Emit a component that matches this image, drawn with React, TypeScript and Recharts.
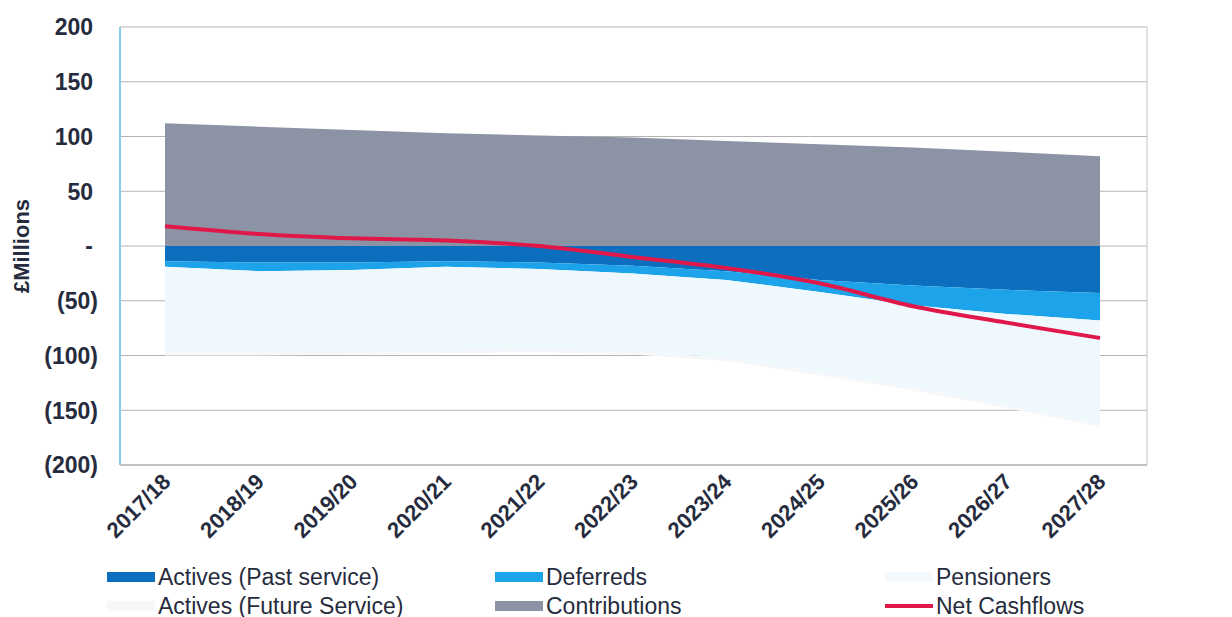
import React from "react";
import {
  ComposedChart,
  Area,
  Line,
  XAxis,
  YAxis,
  CartesianGrid,
} from "recharts";

// Financial years shown on the horizontal axis
const years = [
  "2017/18",
  "2018/19",
  "2019/20",
  "2020/21",
  "2021/22",
  "2022/23",
  "2023/24",
  "2024/25",
  "2025/26",
  "2026/27",
  "2027/28",
];

// Benefit outgoings (£m, negative = cash out)
const activesPast = [-14, -15, -15, -14, -15, -18, -23, -31, -36, -40, -43];
const deferreds = [-5, -8, -7, -5, -6, -7, -8, -11, -18, -22, -25];
const pensioners = [-78, -74, -74, -76, -73, -71, -71, -73, -75, -83, -94];
const activesFuture = [-3, -3, -3, -3, -3, -3, -3, -3, -3, -3, -3];

// Income (£m)
const contributions = [112, 109, 106, 103, 101, 99, 96, 93, 90, 86, 82];

// Net position (£m)
const netCashflows = [18, 11, 7, 5, 0, -10, -20, -34, -55, -70, -84];

const yTicks = [-200, -150, -100, -50, 0, 50, 100, 150, 200];

const COLORS = {
  past: "#0b6ebf",
  deferreds: "#1ca3ea",
  pensioners: "#eff9fd",
  future: "#f4f8fa",
  contributions: "#8b93a5",
  net: "#e0184a",
};

const TEXT = "#262c3e";
const FONT = "'Liberation Sans', Arial, sans-serif";
const W = 1232;
const H = 617;
const MARGIN = { top: 27, right: 0, bottom: 0, left: 0 };

const data = years.map((year, i) => ({
  year,
  activesPast: activesPast[i],
  deferreds: deferreds[i],
  pensioners: pensioners[i],
  activesFuture: activesFuture[i],
  contributions: contributions[i],
  net: netCashflows[i],
}));

const legendItems = [
  { name: "Actives (Past service)", color: COLORS.past, kind: "area" },
  { name: "Deferreds", color: COLORS.deferreds, kind: "area" },
  { name: "Pensioners", color: "#f3f9fc", kind: "area" },
  { name: "Actives (Future Service)", color: "#f5f7f8", kind: "area" },
  { name: "Contributions", color: COLORS.contributions, kind: "area" },
  { name: "Net Cashflows", color: COLORS.net, kind: "line" },
];

const legendCols = [107, 495, 885];
const legendRows = [577, 606];

// Accounting-style number format: negatives in brackets, zero as a dash
const formatMillions = (v: number) => {
  if (v === 0) return "-";
  if (v < 0) return `(${Math.abs(v)})`;
  return String(v);
};

const YTick = (props: any) => {
  const { x, y, payload, textAnchor } = props;
  // positives sit one bracket-width in from the right edge, as in accounting format
  const shift = textAnchor === "end" && payload.value >= 0 ? -5 : 0;
  return (
    <text
      x={x + shift}
      y={y}
      dy="0.36em"
      textAnchor={textAnchor}
      fontFamily={FONT}
      fontWeight="bold"
      fontSize={23}
      fill={TEXT}
    >
      {formatMillions(payload.value)}
    </text>
  );
};

const XTick = (props: any) => {
  const { x, y, payload } = props;
  return (
    <g transform={`translate(${x + 7},${y + 18})`}>
      <text
        transform="rotate(-45)"
        textAnchor="end"
        fontFamily={FONT}
        fontWeight="bold"
        fontSize={22}
        fill={TEXT}
      >
        {payload.value}
      </text>
    </g>
  );
};

const AxisTitle = (props: any) => {
  const vb = props.viewBox || { x: 0, y: 27, width: 120, height: 438 };
  const cx = 21;
  const cy = vb.y + vb.height / 2;
  return (
    <text
      x={cx}
      y={cy}
      transform={`rotate(-90 ${cx} ${cy})`}
      textAnchor="middle"
      dominantBaseline="central"
      fontFamily={FONT}
      fontWeight="bold"
      fontSize={22}
      fill={TEXT}
    >
      £Millions
    </text>
  );
};

// Shared axis geometry so the gridded base layer and the series layer line up
const xAxisBase = {
  dataKey: "year",
  height: 152,
  padding: { left: 45, right: 47 },
  interval: 0 as const,
  tickSize: 0,
  tickMargin: 0,
};
const leftAxisBase = {
  yAxisId: "left",
  width: 120,
  domain: [-200, 200] as [number, number],
  ticks: yTicks,
  allowDataOverflow: true,
  tickSize: 0,
  tickMargin: 22,
};
const rightAxisBase = {
  yAxisId: "right",
  orientation: "right" as const,
  width: 85,
  domain: [-200, 200] as [number, number],
  ticks: yTicks,
  tickSize: 0,
  tickMargin: 25,
};

const areaCommon = {
  yAxisId: "left",
  type: "linear" as const,
  stackId: "cash",
  stroke: "none",
  fillOpacity: 1,
  isAnimationActive: false,
};

const layerStyle: React.CSSProperties = {
  position: "absolute",
  left: 0,
  top: 0,
};

export default function App() {
  return (
    <div
      style={{
        position: "absolute",
        left: 0,
        top: 0,
        width: W,
        height: H,
        background: "#ffffff",
      }}
    >
      {/* base layer: gridlines, axes and labels */}
      <div style={layerStyle}>
        <ComposedChart width={W} height={H} data={data} margin={MARGIN}>
          <CartesianGrid
            yAxisId="left"
            vertical={false}
            stroke="#b4b4b4"
            strokeWidth={1}
          />
          <XAxis
            {...xAxisBase}
            axisLine={{ stroke: "#a8a8a8" }}
            tickLine={false}
            tick={<XTick />}
          />
          <YAxis
            {...leftAxisBase}
            axisLine={{ stroke: "#86cdea", strokeWidth: 2 }}
            tickLine={false}
            tick={<YTick />}
            label={<AxisTitle />}
          />
          <YAxis
            {...rightAxisBase}
            axisLine={{ stroke: "#c4c4c4" }}
            tickLine={false}
            tick={<YTick />}
          />
        </ComposedChart>
      </div>

      {/* series layer: stacked cashflow areas and the net line */}
      <div style={layerStyle}>
        <ComposedChart
          width={W}
          height={H}
          data={data}
          stackOffset="sign"
          margin={MARGIN}
        >
          <XAxis {...xAxisBase} axisLine={false} tickLine={false} tick={false} />
          <YAxis {...leftAxisBase} axisLine={false} tickLine={false} tick={false} />
          <YAxis {...rightAxisBase} axisLine={false} tickLine={false} tick={false} />
          <Area
            {...areaCommon}
            dataKey="activesPast"
            name="Actives (Past service)"
            fill={COLORS.past}
          />
          <Area
            {...areaCommon}
            dataKey="deferreds"
            name="Deferreds"
            fill={COLORS.deferreds}
          />
          <Area
            {...areaCommon}
            dataKey="pensioners"
            name="Pensioners"
            fill={COLORS.pensioners}
          />
          <Area
            {...areaCommon}
            dataKey="activesFuture"
            name="Actives (Future Service)"
            fill={COLORS.future}
          />
          <Area
            {...areaCommon}
            dataKey="contributions"
            name="Contributions"
            fill={COLORS.contributions}
          />
          <Line
            yAxisId="left"
            type="monotone"
            dataKey="net"
            name="Net Cashflows"
            stroke={COLORS.net}
            strokeWidth={4}
            dot={false}
            isAnimationActive={false}
          />
        </ComposedChart>
      </div>

      {legendItems.map((item, i) => {
        const left = legendCols[i % 3];
        const top = legendRows[Math.floor(i / 3)];
        return (
          <div
            key={item.name}
            style={{
              position: "absolute",
              left,
              top: top - 14,
              height: 28,
              display: "flex",
              alignItems: "center",
              fontFamily: FONT,
              fontSize: 23,
              color: TEXT,
              whiteSpace: "nowrap",
            }}
          >
            <span
              style={{
                display: "inline-block",
                width: 48,
                height: item.kind === "line" ? 4 : 10,
                background: item.color,
                marginRight: 3,
              }}
            />
            <span>{item.name}</span>
          </div>
        );
      })}
    </div>
  );
}
